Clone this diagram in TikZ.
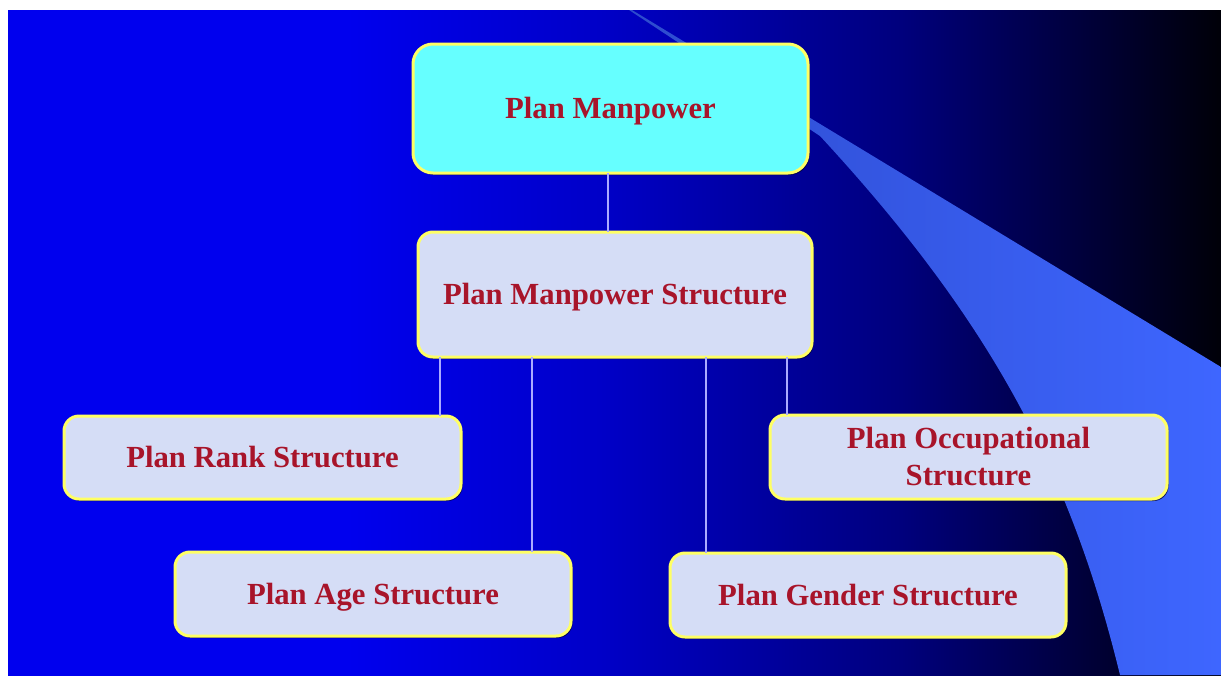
\documentclass[tikz,border=0pt]{standalone}
\usepackage{fontspec}
\setmainfont{Liberation Serif}
\usetikzlibrary{shadows}
\definecolor{bgA}{RGB}{0,0,238}
\definecolor{bgB}{RGB}{0,0,200}
\definecolor{bgC}{RGB}{0,0,150}
\definecolor{bgD}{RGB}{0,0,125}
\definecolor{bgE}{RGB}{0,0,70}
\definecolor{bgF}{RGB}{0,0,8}
\definecolor{swA}{RGB}{45,75,205}
\definecolor{swB}{RGB}{62,102,255}
\definecolor{cyanfill}{RGB}{102,255,255}
\definecolor{lavfill}{RGB}{213,221,246}
\definecolor{yborder}{RGB}{255,255,100}
\definecolor{txtred}{RGB}{168,20,42}
\definecolor{connc}{RGB}{170,170,255}
\definecolor{shadc}{RGB}{0,0,60}
\pgfdeclarehorizontalshading{bgshade}{100bp}{color(0bp)=(bgA); color(25bp)=(bgA); color(39bp)=(bgA); color(49.4bp)=(bgB); color(57.6bp)=(bgC); color(61.8bp)=(bgD); color(68bp)=(bgE); color(75bp)=(bgF); color(100bp)=(bgF)}
\tikzset{
  lbox/.style={rectangle, draw=yborder, line width=3pt, fill=lavfill, rounded corners=15pt,
    inner sep=0pt, align=center, text=txtred, text height=20pt, text depth=0pt,
    font=\fontsize{30.7}{37}\selectfont\bfseries,
    drop shadow={shadow xshift=1.5pt, shadow yshift=-2pt, fill=shadc, opacity=0.8}},
  topbox/.style={lbox, fill=cyanfill, rounded corners=20pt},
  conn/.style={draw=connc, line width=2pt}
}
\begin{document}
\begin{tikzpicture}[x=1pt, y=-1pt]
\useasboundingbox (0,0) rectangle (1221,675);
\fill[white] (0,0) rectangle (1221,675);
\path[shading=bgshade] (8,10) rectangle (1221,675);
% swoosh
\shade[left color=swA, right color=swB]
  (632,10) -- (1221,367) -- (1221,675) -- (1120,675)
  .. controls (1070,470) and (990,320) .. (820,136)
  -- (629,10) -- cycle;
% nodes
\node[topbox, minimum width=395pt, minimum height=129pt] (top) at (610.5,108.5) {Plan Manpower};
\node[lbox, minimum width=394pt, minimum height=125pt] (mid) at (615,294.5) {Plan Manpower Structure};
\node[lbox, minimum width=397pt, minimum height=83pt] (rank) at (262.5,457.5) {Plan Rank Structure};
\node[lbox, minimum width=397pt, minimum height=84pt, text height=57pt] (occ) at (968.5,457) {Plan Occupational\\Structure};
\node[lbox, minimum width=396pt, minimum height=84pt] (age) at (373,594) {Plan Age Structure};
\node[lbox, minimum width=396pt, minimum height=84pt] (gender) at (868,595) {Plan Gender Structure};
% connector x positions
\coordinate (cx0) at (608,0);
\coordinate (cx1) at (440,0);
\coordinate (cx2) at (532,0);
\coordinate (cx3) at (706,0);
\coordinate (cx4) at (787,0);
\draw[conn] ([yshift=1.5pt]cx0 |- top.south) -- ([yshift=-1.5pt]cx0 |- mid.north);
\draw[conn] ([yshift=1.5pt]cx1 |- mid.south) -- ([yshift=-1.5pt]cx1 |- rank.north);
\draw[conn] ([yshift=1.5pt]cx2 |- mid.south) -- ([yshift=-1.5pt]cx2 |- age.north);
\draw[conn] ([yshift=1.5pt]cx3 |- mid.south) -- ([yshift=-1.5pt]cx3 |- gender.north);
\draw[conn] ([yshift=1.5pt]cx4 |- mid.south) -- ([yshift=-1.5pt]cx4 |- occ.north);
\end{tikzpicture}
\end{document}
